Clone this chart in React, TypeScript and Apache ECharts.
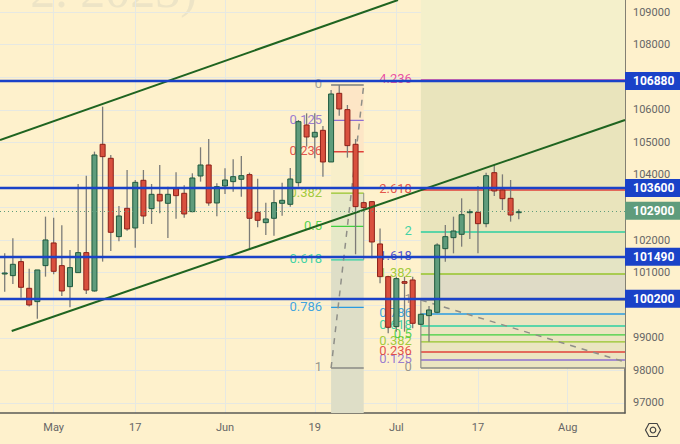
import React, { useEffect, useRef } from "react";
import * as echarts from "echarts";

const opens = [100970,100909,101339,100520,100111,101216,101912,101216,100571,101001,101615,100438,104940,104510,102106,102975,102372,103835,102965,103405,103129,103579,103436,102873,103968,104305,103139,103661,103794,103866,104009,102853,102536,102669,103129,103098,103763,105533,105165,105369,104398,106505,106004,104940,103149,103180,101881,100878,99344,100725,100776,99415,99681,99783,101737,102075,102177,102842,102852,102504,104069,103537,103282,102862];
const closes = [100990,101257,100551,100009,101083,102004,101042,100438,101155,101615,100469,104612,104561,102239,102740,102341,103773,102740,103405,103201,103405,103364,102802,103906,104305,103139,103640,103845,103947,103978,102669,102607,102648,103149,103221,103876,105635,105165,105308,104398,106484,106024,104899,103027,102996,101942,100878,99323,100817,100674,99446,99722,99855,101849,102105,102279,102780,102872,102504,103977,103507,103271,102770,102872];
const lows = [100418,100653,100234,99958,99589,100878,100950,100285,99937,101001,100346,100418,101339,101666,101963,102290,101768,102495,102495,102822,102065,102658,102689,102853,103794,103057,102730,103415,103487,103334,101697,102392,102157,102137,102750,103027,103640,104868,104510,103947,104398,105819,104531,101564,102945,101441,100674,99139,99190,99190,99293,99394,98883,99752,101338,101594,101798,102034,101594,102392,103353,102924,102566,102637];
const highs = [101594,102055,101441,101124,101083,102720,102689,102454,101697,103722,103978,104715,106096,104612,103047,104152,103845,104152,103722,104305,103640,104080,103681,104050,104848,105103,103743,104203,104479,104582,104070,103886,103149,103538,103763,104213,105686,105891,105891,105502,106607,106761,106147,105103,103180,103201,102352,100899,100878,100878,100878,99752,99977,101901,102463,102719,103282,102944,103660,104069,104305,104018,103844,102944];

const xTickPositions = [6, 16, 27, 38, 48, 58, 69];
const xTickLabels = ["May", "17", "Jun", "19", "Jul", "17", "Aug"];
const yGridValues = [97000,98000,99000,100000,101000,102000,103000,104000,105000,106000,107000,108000,109000];
const yLabelValues = [97000,98000,99000,101000,102000,104000,105000,106000,108000,109000];

const supportLevels = [106880, 103600, 101490, 100200];
const lastPrice = 102900;

const upperChannel = [[-0.576, 105072], [48.2, 109369]];
const lowerChannel = [[0.86, 99211], [76.02, 105686]];

const leftFibNames = ["0", "0.125", "0.236", "0.382", "0.5", "0.618", "0.786", "1"];
const leftFibValues = [106761, 105675, 104711, 103443, 102418, 101393, 99934, 98075];
const leftFibColors = ["#9a9a92", "#8e6fd0", "#e0413a", "#96c52b", "#3fcf3f", "#2bcfa0", "#2a9be0", "#8a8a84"];

const rightFibNames = ["0", "0.125", "0.236", "0.382", "0.5", "0.618", "0.786", "1", "1.382", "1.618", "2", "2.618", "4.236"];
const rightFibValues = [98075, 98320, 98566, 98873, 99088, 99364, 99732, 100162, 100960, 101482, 102249, 103538, 106914];
const rightFibColors = ["#8a8a84", "#8e6fd0", "#e0413a", "#96c52b", "#3fcf3f", "#2bcfa0", "#2a9be0", "#8a8a84", "#96c52b", "#3b3fc8", "#2bcfa0", "#e0413a", "#e83e9c"];

const leftFibStart = 40;
const leftFibEnd = 44;
const rightFibStart = 51;
const rightFibEnd = 76.02;

const zoneEdgesLeft = [106761, 104711, 103443, 101393, 96693];
const zoneColorsLeft = ["#fde6c6", "#f8efca", "#e6e8c8", "#dedec7"];
const zoneEdgesRight = [109369, 106914, 101482, 100960, 100162, 98075];
const zoneColorsRight = ["#f4f0cb", "#e9e4bc", "#e4e4c4", "#dfdbc6", "#ebe5c1"];

const dashLeft = [[40, 98075], [44, 106761]];
const dashRight = [[51, 100162], [76.02, 98259]];

const BG = "#fef1cc";
const GRID = "#e6e8e2";
const BLUE = "#1a42c8";
const GREEN_TAG = "#5f9c7c";

const xMin = -0.576;
const xMax = 76.02;
const yMin = 96693;
const yMax = 109369;

function zoneData() {
  const rows: number[][] = [];
  zoneColorsLeft.forEach((_, i) => rows.push([leftFibStart, leftFibEnd, zoneEdgesLeft[i], zoneEdgesLeft[i + 1], 0, i]));
  zoneColorsRight.forEach((_, i) => rows.push([rightFibStart, rightFibEnd, zoneEdgesRight[i], zoneEdgesRight[i + 1], 1, i]));
  return rows;
}

function fibData() {
  const rows: number[][] = [];
  leftFibValues.forEach((v, i) => rows.push([leftFibStart, leftFibEnd, v, 0, i]));
  rightFibValues.forEach((v, i) => rows.push([rightFibStart, rightFibEnd, v, 1, i]));
  return rows;
}

function renderZone(_: any, api: any) {
  const a = api.coord([api.value(0), api.value(2)]);
  const b = api.coord([api.value(1), api.value(3)]);
  const colors = api.value(4) === 0 ? zoneColorsLeft : zoneColorsRight;
  return {
    type: "rect",
    shape: { x: a[0], y: a[1], width: b[0] - a[0], height: b[1] - a[1] },
    style: { fill: colors[api.value(5)] },
  };
}

function renderFib(_: any, api: any) {
  const a = api.coord([api.value(0), api.value(2)]);
  const b = api.coord([api.value(1), api.value(2)]);
  const isLeft = api.value(3) === 0;
  const idx = api.value(4);
  const color = (isLeft ? leftFibColors : rightFibColors)[idx];
  const name = (isLeft ? leftFibNames : rightFibNames)[idx];
  const thick = name === "0" && isLeft ? 2 : name === "0" || name === "1" ? 1.5 : 1.3;
  return {
    type: "group",
    children: [
      { type: "line", shape: { x1: a[0], y1: a[1], x2: b[0], y2: b[1] }, style: { stroke: color, lineWidth: thick } },
      {
        type: "text",
        style: {
          x: a[0] - 9,
          y: a[1] - 1,
          text: name,
          fill: color,
          fontSize: 13,
          fontFamily: "Roboto",
          align: "right",
          verticalAlign: "middle",
          opacity: 0.9,
        },
      },
    ],
  };
}

function renderCandle(_: any, api: any) {
  const x = api.value(0);
  const o = api.coord([x, api.value(1)]);
  const c = api.coord([x, api.value(2)]);
  const l = api.coord([x, api.value(3)]);
  const h = api.coord([x, api.value(4)]);
  const up = api.value(2) >= api.value(1);
  const w = 5;
  const top = Math.min(o[1], c[1]);
  const hgt = Math.max(Math.abs(o[1] - c[1]), 1);
  return {
    type: "group",
    children: [
      { type: "line", shape: { x1: o[0], y1: h[1], x2: o[0], y2: l[1] }, style: { stroke: "#7c7c78", lineWidth: 1.3 } },
      {
        type: "rect",
        shape: { x: o[0] - w / 2, y: top, width: w, height: hgt },
        style: {
          fill: up ? "#5f9c7c" : "#d9503e",
          stroke: up ? "#1f5a3e" : "#8c2018",
          lineWidth: 1,
        },
      },
    ],
  };
}

export default function App() {
  const ref = useRef<HTMLDivElement>(null);

  useEffect(() => {
    if (!ref.current) return;
    const chart = echarts.init(ref.current, undefined, { renderer: "svg" });
    const tag = (color: string, textColor = "#fff") => ({
      show: true,
      position: "end" as const,
      distance: 0,
      formatter: "{c}",
      backgroundColor: color,
      color: textColor,
      fontFamily: "Roboto",
      fontSize: 12,
      fontWeight: "bold" as const,
      padding: [3, 7, 3, 8],
      borderRadius: [0, 2, 2, 0],
    });
    chart.setOption({
      animation: false,
      backgroundColor: BG,
      grid: { left: 0, right: 55, top: 0, bottom: 31, containLabel: false },
      xAxis: {
        type: "value",
        min: xMin,
        max: xMax,
        axisLine: { show: true, onZero: false, lineStyle: { color: "#5a5a56", width: 1.5 } },
        axisTick: { show: false, customValues: xTickPositions },
        splitLine: { show: true, lineStyle: { color: GRID, width: 1 } },
        axisLabel: {
          customValues: xTickPositions,
          color: "#666",
          fontFamily: "Roboto",
          fontSize: 11,
          margin: 9,
          showMinLabel: true,
          showMaxLabel: true,
          formatter: (v: number) => xTickLabels[xTickPositions.indexOf(v)] ?? "",
        },
      },
      yAxis: {
        type: "value",
        position: "right",
        min: yMin,
        max: yMax,
        axisLine: { show: true, onZero: false, lineStyle: { color: "#5a5a56", width: 1.5 } },
        axisTick: { show: false, customValues: yGridValues },
        splitLine: { show: true, lineStyle: { color: GRID, width: 1 } },
        axisLabel: {
          customValues: yLabelValues,
          color: "#666",
          fontFamily: "Roboto",
          fontSize: 11,
          margin: 8,
          formatter: (v: number) => String(v),
        },
      },
      graphic: [
        {
          type: "text",
          z: 0,
          silent: true,
          style: {
            x: 197,
            y: 15,
            text: "2. 2023)",
            fill: "#ede4c6",
            fontSize: 50,
            fontFamily: "Liberation Serif",
            align: "right",
            verticalAlign: "bottom",
          },
        },
        {
          type: "polygon",
          z: 10,
          silent: true,
          shape: { points: [[645.5, 430], [649, 423.5], [657, 423.5], [660.5, 430], [657, 436.5], [649, 436.5]] },
          style: { fill: "none", stroke: "#444", lineWidth: 1.2 },
        },
        {
          type: "circle",
          z: 10,
          silent: true,
          shape: { cx: 653, cy: 430, r: 2.8 },
          style: { fill: "none", stroke: "#444", lineWidth: 1.2 },
        },
      ],
      series: [
        {
          name: "zones",
          type: "custom",
          z: 1,
          clip: true,
          silent: true,
          renderItem: renderZone,
          encode: { x: [0, 1], y: [2, 3] },
          data: zoneData(),
        },
        {
          name: "fibonacci",
          type: "custom",
          z: 2,
          clip: false,
          silent: true,
          renderItem: renderFib,
          encode: { x: [0, 1], y: 2 },
          data: fibData(),
        },
        {
          name: "fib trend left",
          type: "line",
          z: 2,
          symbol: "none",
          silent: true,
          data: dashLeft,
          lineStyle: { color: "#8f8f88", width: 1.5, type: [6, 6] },
        },
        {
          name: "fib trend right",
          type: "line",
          z: 2,
          symbol: "none",
          silent: true,
          data: dashRight,
          lineStyle: { color: "#8f8f88", width: 1.5, type: [6, 6] },
        },
        {
          name: "fib edge left",
          type: "line",
          z: 2,
          symbol: "none",
          silent: true,
          data: [[leftFibEnd, leftFibValues[3]], [leftFibEnd, leftFibValues[5]]],
          lineStyle: { color: "#8f8f88", width: 1 },
        },
        {
          name: "fib edge right",
          type: "line",
          z: 2,
          symbol: "none",
          silent: true,
          data: [[rightFibStart, rightFibValues[7]], [rightFibStart, rightFibValues[0]]],
          lineStyle: { color: "#8f8f88", width: 1.2 },
        },
        {
          name: "price",
          type: "custom",
          z: 3,
          clip: true,
          renderItem: renderCandle,
          encode: { x: 0, y: [1, 2, 3, 4] },
          data: opens.map((o, i) => [i, o, closes[i], lows[i], highs[i]]),
        },
        {
          name: "upper channel",
          type: "line",
          z: 4,
          symbol: "none",
          silent: true,
          data: upperChannel,
          lineStyle: { color: "#1f6420", width: 2 },
        },
        {
          name: "lower channel",
          type: "line",
          z: 4,
          symbol: "none",
          silent: true,
          data: lowerChannel,
          lineStyle: { color: "#1f6420", width: 2 },
        },
        {
          name: "levels",
          type: "line",
          z: 5,
          symbol: "none",
          silent: true,
          data: [],
          markLine: {
            silent: true,
            symbol: "none",
            animation: false,
            data: [
              ...supportLevels.map((v) => ({
                yAxis: v,
                lineStyle: { color: BLUE, width: 2.4, type: "solid" },
                label: tag(BLUE),
              })),
              {
                yAxis: lastPrice,
                lineStyle: { color: GREEN_TAG, width: 1, type: [1, 3] },
                label: tag(GREEN_TAG),
              },
            ],
          },
        },
      ],
    });
    return () => chart.dispose();
  }, []);

  return (
    <div
      ref={ref}
      style={{ position: "fixed", left: 0, top: 0, width: 680, height: 444 }}
    />
  );
}
